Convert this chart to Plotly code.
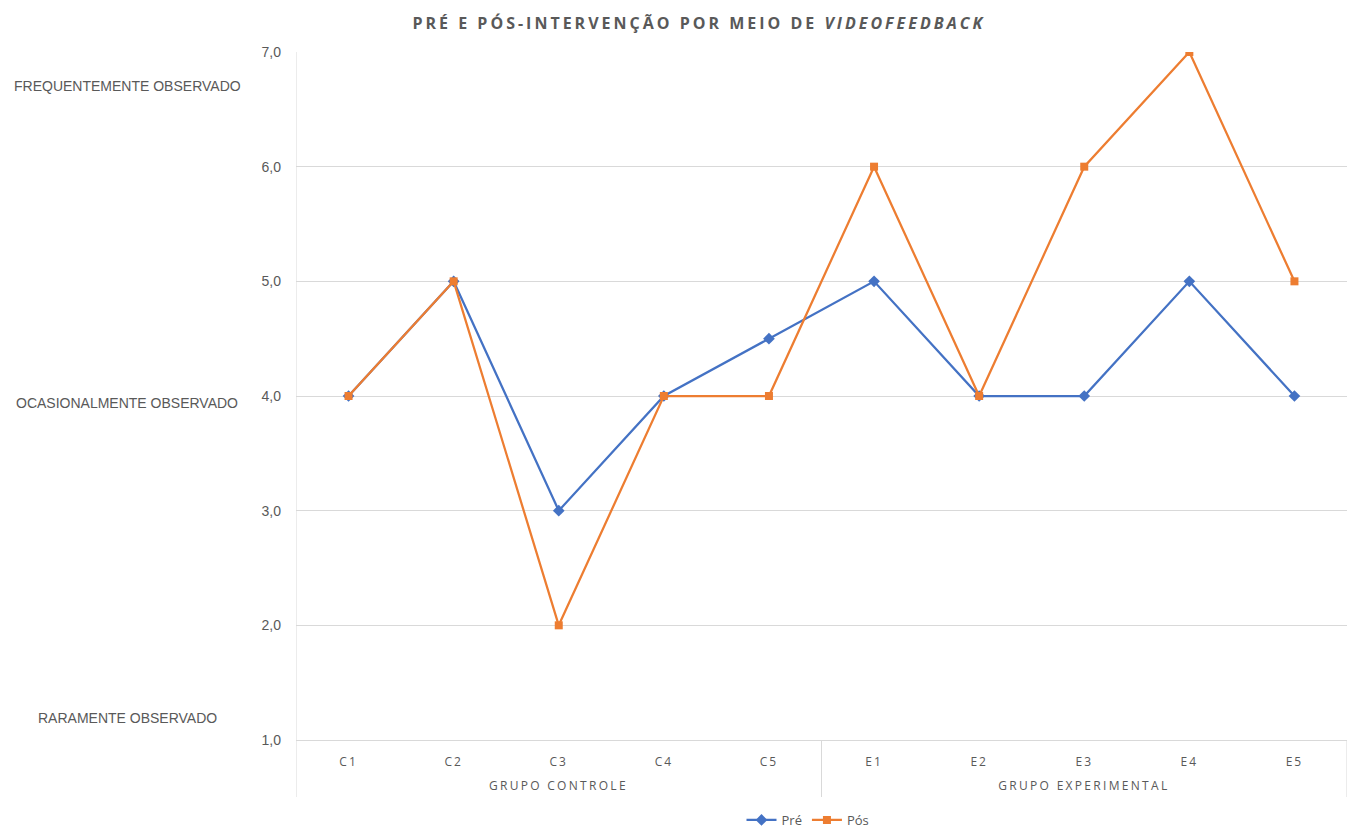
import plotly.graph_objects as go

# Participants and scores (pre / post intervention)
participants = ["C1", "C2", "C3", "C4", "C5", "E1", "E2", "E3", "E4", "E5"]
pre_scores = [4.0, 5.0, 3.0, 4.0, 4.5, 5.0, 4.0, 4.0, 5.0, 4.0]
post_scores = [4.0, 5.0, 2.0, 4.0, 4.0, 6.0, 4.0, 6.0, 7.0, 5.0]
groups = ["GRUPO CONTROLE", "GRUPO EXPERIMENTAL"]
group_sizes = [5, 5]
scale_labels = ["FREQUENTEMENTE OBSERVADO", "OCASIONALMENTE OBSERVADO", "RARAMENTE OBSERVADO"]
scale_label_y = [6.7, 3.94, 1.19]

BLUE = "#4472C4"
ORANGE = "#ED7D31"
GREY_TXT = "#595959"
GRID = "#D9D9D9"

W, H = 1356, 831
L, R, T, B = 296, 9, 52, 91
plot_w = W - L - R
plot_h = H - T - B

def px_x(p):
    return (p - L) / plot_w

def px_y(p):
    return (H - B - p) / plot_h

fig = go.Figure()
fig.add_trace(go.Scatter(
    x=participants, y=pre_scores, name="Pré", mode="lines+markers",
    line=dict(color=BLUE, width=2.25),
    marker=dict(symbol="diamond", size=9, color=BLUE),
))
fig.add_trace(go.Scatter(
    x=participants, y=post_scores, name="Pós", mode="lines+markers",
    line=dict(color=ORANGE, width=2.25),
    marker=dict(symbol="square", size=8, color=ORANGE),
))

shapes = []
annotations = []
# group boxes below the axis
start = 0
bounds = [-0.5]
for g, n in zip(groups, group_sizes):
    annotations.append(dict(
        x=start + (n - 1) / 2, xref="x", y=px_y(786), yref="paper",
        text=g, showarrow=False, yanchor="middle",
        font=dict(family="Open Sans", size=12, color=GREY_TXT),
    ))
    start += n
    bounds.append(start - 0.5)
for i, b in enumerate(bounds):
    y1 = 1 if i == 0 else 0
    shapes.append(dict(
        type="line", xref="x", yref="paper", x0=b, x1=b,
        y0=px_y(797), y1=y1, line=dict(color=GRID, width=1),
    ))

for lab, yv in zip(scale_labels, scale_label_y):
    annotations.append(dict(
        x=px_x(127), xref="paper", y=yv, yref="y", text=lab,
        showarrow=False, xanchor="center", yanchor="middle",
        font=dict(family="Liberation Sans", size=14, color=GREY_TXT),
    ))

annotations.append(dict(
    x=px_x(700), xref="paper", y=px_y(23), yref="paper",
    text="<b>PRÉ E PÓS-INTERVENÇÃO POR MEIO DE <i>VIDEOFEEDBACK</i></b>",
    showarrow=False, xanchor="center", yanchor="middle",
    font=dict(family="Open Sans", size=16, color=GREY_TXT),
))

fig.update_layout(
    width=W, height=H,
    margin=dict(l=L, r=R, t=T, b=B, autoexpand=False),
    paper_bgcolor="white", plot_bgcolor="white",
    separators=",.",
    showlegend=True,
    legend=dict(
        orientation="h", xref="container", x=808 / W, xanchor="center",
        yref="container", y=1 - 820 / H, yanchor="middle",
        font=dict(family="Open Sans", size=13, color=GREY_TXT),
        itemwidth=30, tracegroupgap=0,
    ),
    shapes=shapes,
    annotations=annotations,
)
fig.update_xaxes(
    type="category", categoryorder="array", categoryarray=participants,
    range=[-0.5, len(participants) - 0.5],
    showgrid=False, zeroline=False, showline=True, linecolor=GRID, linewidth=1,
    ticks="", ticklabelstandoff=11,
    tickfont=dict(family="Open Sans", size=12, color=GREY_TXT),
)
fig.update_yaxes(
    range=[1, 7], dtick=1, tickformat=".1f",
    showgrid=True, gridcolor=GRID, gridwidth=1,
    zeroline=False, showline=False,
    ticks="", ticklabelstandoff=14,
    tickfont=dict(family="Liberation Sans", size=14, color=GREY_TXT),
)

# widen the tracking of the title, category and group labels
spacing_js = """
var gd = document.getElementById('{plot_id}');
function track() {
  gd.querySelectorAll('.xtick text').forEach(function (t) { t.style.letterSpacing = '2px'; });
  var ann = gd.querySelectorAll('g.annotation');
  ann.forEach(function (a, i) {
    var t = a.querySelector('text');
    if (!t) return;
    if (i < 2) t.style.letterSpacing = '2.3px';
    if (i === ann.length - 1) t.style.letterSpacing = '3px';
  });
}
track();
gd.on('plotly_afterplot', track);
"""

fig.write_html("out.html", post_script=spacing_js)
